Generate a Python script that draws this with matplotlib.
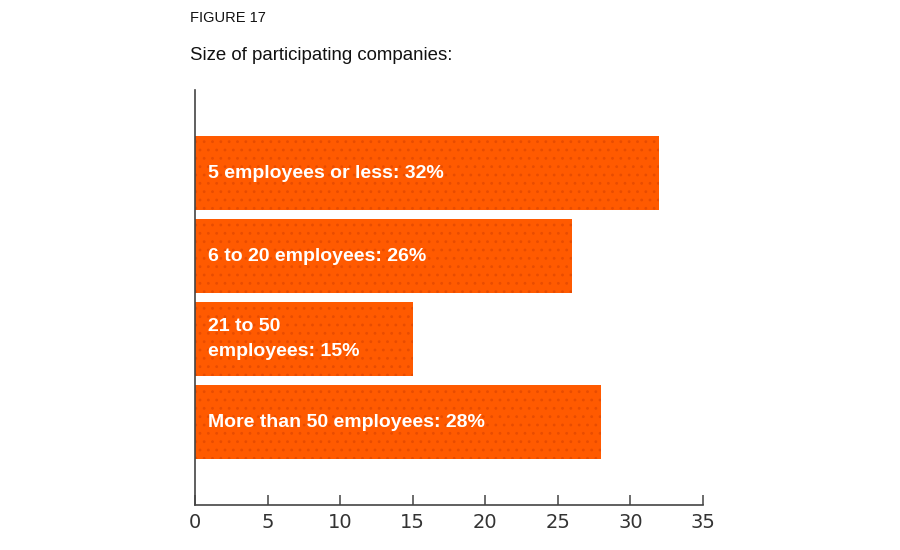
import matplotlib
matplotlib.use("Agg")
import matplotlib.pyplot as plt
import matplotlib as mpl

categories = ["5 employees or less", "6 to 20 employees", "21 to 50\nemployees", "More than 50 employees"]
values = [32, 26, 15, 28]
xticks = [0, 5, 10, 15, 20, 25, 30, 35]

mpl.rcParams['hatch.linewidth'] = 0.8
mpl.rcParams['font.family'] = ['Liberation Sans', 'DejaVu Sans']

fig = plt.figure(figsize=(9, 5.5), dpi=100)
ax = fig.add_axes([0.2167, 0.0818, 0.5644, 0.7545])

n = len(categories)
ypos = [n - 1 - i for i in range(n)]
bars = ax.barh(ypos, values, height=0.9, color='#FF5A00', edgecolor='#E84C00',
               hatch='..', linewidth=0)
for y, c, v in zip(ypos, categories, values):
    ax.text(0.9, y, f"{c}: {v}%", color='white', fontsize=14, fontweight='bold',
            va='center', ha='left', linespacing=1.55)

ax.set_xlim(0, 35)
ax.set_ylim(-1.0, 4.0)
ax.set_xticks(xticks)
ax.set_xticklabels([str(t) for t in xticks], family='DejaVu Sans', fontsize=14, color='#333333')
ax.set_yticks([])
for s in ['top', 'right']:
    ax.spines[s].set_visible(False)
for s in ['left', 'bottom']:
    ax.spines[s].set_color('#444444')
    ax.spines[s].set_linewidth(1.2)
ax.tick_params(axis='x', direction='in', length=7, width=1.1, color='#444444', pad=6)

fig.text(190/900, 1 - 18/550, "FIGURE 17", fontsize=10.5, va='center', ha='left', color='#111111')
fig.text(190/900, 1 - 55/550, "Size of participating companies:", fontsize=13.4, va='center', ha='left', color='#111111')

fig.savefig("out.png", dpi=100, facecolor='white')
